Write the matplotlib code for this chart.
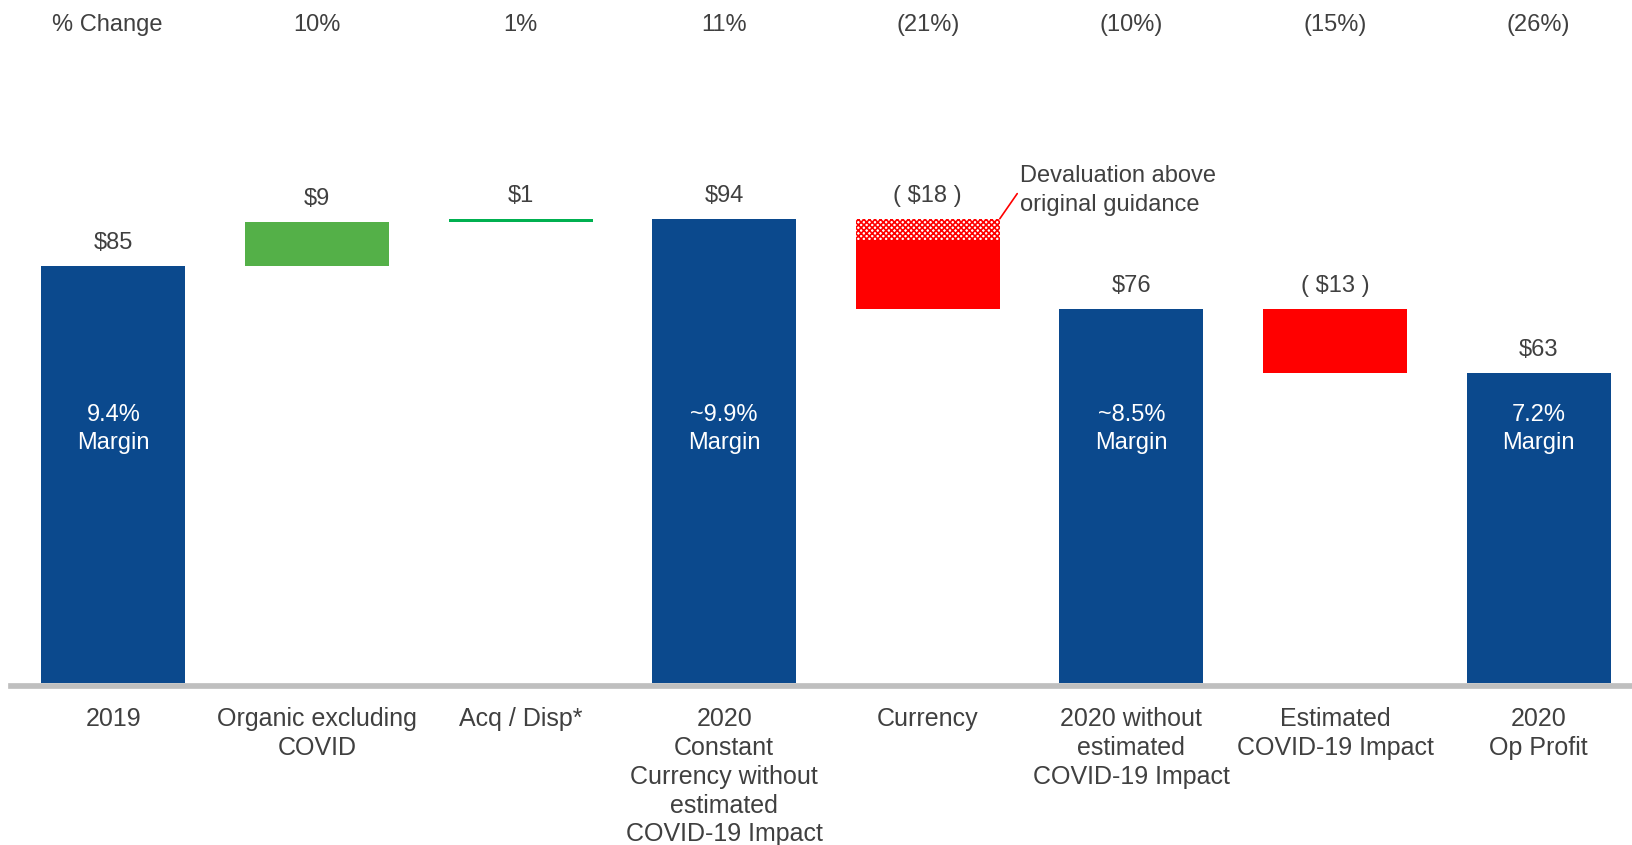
import matplotlib
matplotlib.use("Agg")
import matplotlib.pyplot as plt
from matplotlib.transforms import blended_transform_factory

plt.rcParams['font.family'] = ['Liberation Sans', 'DejaVu Sans']
plt.rcParams['hatch.linewidth'] = 1.2

# ---- data ----
categories = ["2019", "Organic excluding\nCOVID", "Acq / Disp*",
              "2020\nConstant\nCurrency without\nestimated\nCOVID-19 Impact",
              "Currency", "2020 without\nestimated\nCOVID-19 Impact",
              "Estimated\nCOVID-19 Impact", "2020\nOp Profit"]
kinds = ["total", "delta", "delta", "total", "delta", "total", "delta", "total"]
values = [84.5, 8.8, 0.7, 94.0, -18.2, 75.8, -13.1, 62.7]
value_labels = ["$85", "$9", "$1", "$94", "( $18 )", "$76", "( $13 )", "$63"]
pct_change = ["", "10%", "1%", "11%", "(21%)", "(10%)", "(15%)", "(26%)"]
margin_labels = ["9.4%\nMargin", "", "", "~9.9%\nMargin", "", "~8.5%\nMargin", "", "7.2%\nMargin"]
devaluation_above_guidance = 4.3  # hatched part of currency bar

NAVY = "#0B498D"
GREEN_ORG = "#54B048"
GREEN_ACQ = "#00B050"
RED = "#FF0000"
TXT = "#404040"

fig = plt.figure(figsize=(16.32, 8.455), dpi=100)
W, H = 1632, 845
base_px = 683.5
ppu = 4.94
ylim_top = 130
ax = fig.add_axes([0, 1 - base_px / H, 1, ylim_top * ppu / H])
ax.set_ylim(0, ylim_top)
x0_px, step_px = 113.4, 203.6
ax.set_xlim(-x0_px / step_px, (W - x0_px) / step_px)
ax.axis('off')

bw = 0.707
running = 0
tops = []
for i, (k, v) in enumerate(zip(kinds, values)):
    if k == "total":
        bottom, height, color = 0, v, NAVY
        running = v
        top = v
    else:
        if v >= 0:
            bottom, height = running, v
            top = running + v
        else:
            bottom, height = running + v, -v
            top = running
        running += v
        color = GREEN_ORG if i == 1 else (GREEN_ACQ if i == 2 else RED)
    if i == 4:
        solid_h = height - devaluation_above_guidance
        ax.bar(i, solid_h, bottom=bottom, width=bw, color=RED, linewidth=0)
        ax.bar(i, devaluation_above_guidance, bottom=bottom + solid_h, width=bw,
               facecolor="white", edgecolor=RED, hatch="xxxxxx", linewidth=0)
    else:
        ax.bar(i, height, bottom=bottom, width=bw, color=color, linewidth=0)
    tops.append(top)
    ax.annotate(value_labels[i], (i, top), xytext=(0, 17), textcoords="offset points",
                ha="center", va="center", fontsize=17, color=TXT)
    if margin_labels[i]:
        ax.text(i, 51.5, margin_labels[i], ha="center", va="center", fontsize=17,
                color="white", linespacing=1.37)

# baseline
ax.axhline(-2.6 / ppu, xmin=11 / W, xmax=1, color="#BFBFBF", linewidth=4.1,
           clip_on=False)

# category labels
trans = blended_transform_factory(ax.transData, fig.transFigure)
for i, c in enumerate(categories):
    ax.text(i, 1 - 707 / H, c, transform=trans, ha="center", va="top",
            fontsize=18, color=TXT, linespacing=1.25)

# % change row
fig.text(52 / W, 1 - 25 / H, "% Change", ha="left", va="center", fontsize=17, color=TXT)
for i, p in enumerate(pct_change):
    if p:
        ax.text(i, 1 - 25 / H, p, transform=trans, ha="center", va="center",
                fontsize=17, color=TXT)

# devaluation annotation
ax.annotate("Devaluation above\noriginal guidance", xy=(4 + bw / 2, tops[4]),
            xytext=(1020 / W, 1 - 190 / H), textcoords="figure fraction",
            ha="left", va="center", fontsize=17, color=TXT, linespacing=1.42,
            arrowprops=dict(arrowstyle="-", color=RED, lw=1.2,
                            shrinkA=0, shrinkB=0, relpos=(0, 0.5)))

fig.savefig("out.png", dpi=100)
